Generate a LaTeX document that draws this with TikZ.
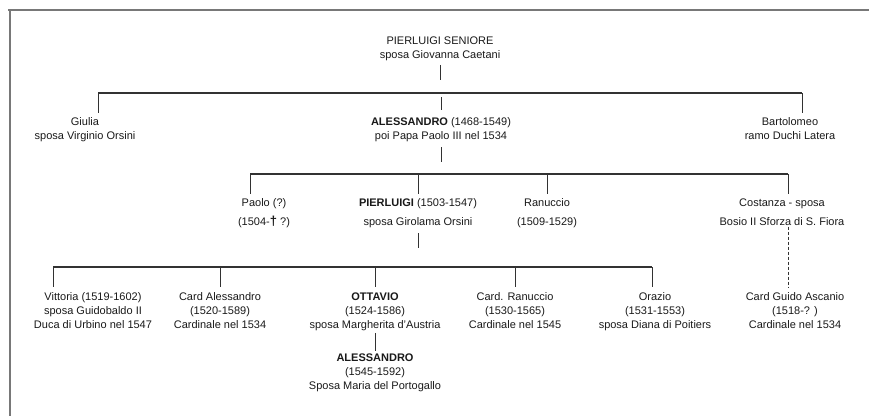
\documentclass[tikz,border=0pt]{standalone}
\usepackage{fontspec}
\setmainfont{Liberation Sans}
\usepackage{xcolor}
\usepackage{tikz}
\usetikzlibrary{calc}
\definecolor{ink}{RGB}{25,25,25}
\definecolor{rule}{RGB}{50,50,50}
\definecolor{edge}{RGB}{120,120,120}
\tikzset{
  person/.style = {align=center, inner sep=0pt, anchor=north, text=ink,
                   font=\fontsize{11}{14}\selectfont},
  bar/.style    = {draw=rule, line width=1.4pt},
  drop/.style   = {draw=rule, line width=0.8pt},
  guess/.style  = {draw=rule, line width=0.8pt, dash pattern=on 3pt off 2pt},
  frame/.style  = {draw=edge, line width=1.6pt},
}

\begin{document}
\begin{tikzpicture}[x=1pt, y=-1pt]
\useasboundingbox (0,0) rectangle (869,416);
% page frame (top and left only)
\draw[frame] (8,10) -- (869,10);
\draw[frame] (10,10) -- (10,416);

% Generation 1
\node[person] (root) at (440,36.5) {PIERLUIGI SENIORE\\sposa Giovanna Caetani};

% Generation 2
\node[person] (giulia) at (85,117.5) {Giulia\\sposa Virginio Orsini};
\node[person] (alex) at (441,117.5) {\textbf{ALESSANDRO} (1468-1549)\\poi Papa Paolo III nel 1534};
\node[person] (bart) at (790,117.5) {Bartolomeo\\ramo Duchi Latera};
\coordinate (b1w) at (98,93);
\coordinate (b1e) at (802,93);
\draw[drop, shorten <=4pt, shorten >=13pt] (root.south) -- (root.south |- b1w);
\draw[bar] (b1w) -- (b1e);
\draw[drop, shorten >=4.5pt] (b1w) -- (b1w |- giulia.north);
\draw[drop, shorten >=4.5pt] (b1e) -- (b1e |- bart.north);
\draw[drop, shorten <=4pt, shorten >=8pt] (alex.north |- b1w) -- (alex.north);

% Generation 3
\node[person] (paolo) at (264,198.5) {Paolo (?)\\[5pt](1504-{\bfseries\fontsize{13}{14}\selectfont †} ?)};
\node[person] (pier) at (418,198.5) {\textbf{PIERLUIGI} (1503-1547)\\[5pt]sposa Girolama Orsini};
\node[person] (ranu) at (547,198.5) {Ranuccio\\[5pt](1509-1529)};
\node[person] (costa) at (782,198.5) {Costanza - sposa\\[5pt]Bosio II Sforza di S. Fiora};
\coordinate (b2w) at (250,174);
\coordinate (b2e) at (788,174);
\draw[drop, shorten <=5pt, shorten >=12pt] (alex.south) -- (alex.south |- b2w);
\draw[bar] (b2w) -- (b2e);
\draw[drop, shorten >=5pt] (b2w) -- (b2w |- paolo.north);
\draw[drop, shorten >=5pt] (pier.north |- b2w) -- (pier.north);
\draw[drop, shorten >=5pt] (ranu.north |- b2w) -- (ranu.north);
\draw[drop, shorten >=5pt] (b2e) -- (b2e |- costa.north);

% Generation 4
\node[person] (vitt) at (93,292.5) {Vittoria (1519-1602)\\sposa Guidobaldo II\\Duca di Urbino nel 1547};
\node[person] (cardal) at (220,292.5) {Card Alessandro\\(1520-1589)\\Cardinale nel 1534};
\node[person] (ottav) at (375,292.5) {\textbf{OTTAVIO}\\(1524-1586)\\sposa Margherita d'Austria};
\node[person] (cardra) at (515,292.5) {Card. Ranuccio\\(1530-1565)\\Cardinale nel 1545};
\node[person] (orazio) at (655,292.5) {Orazio\\(1531-1553)\\sposa Diana di Poitiers};
\node[person] (guido) at (795,292.5) {Card Guido Ascanio\\(1518-? )\\Cardinale nel 1534};
\coordinate (b3w) at (53,267);
\coordinate (b3e) at (652,267);
\draw[drop, shorten <=5pt, shorten >=19pt] (pier.south) -- (pier.south |- b3w);
\draw[bar] (b3w) -- (b3e);
\draw[drop, shorten >=6pt] (b3w) -- (b3w |- vitt.north);
\draw[drop, shorten >=6pt] (cardal.north |- b3w) -- (cardal.north);
\draw[drop, shorten >=6pt] (ottav.north |- b3w) -- (ottav.north);
\draw[drop, shorten >=6pt] (cardra.north |- b3w) -- (cardra.north);
\draw[drop, shorten >=6pt] (b3e) -- (b3e |- orazio.north);
\draw[guess, shorten <=1pt, shorten >=5pt] (b2e |- costa.south) -- (b2e |- guido.north);

% Generation 5
\node[person] (alex2) at (375,353.5) {\textbf{ALESSANDRO}\\(1545-1592)\\Sposa Maria del Portogallo};
\draw[drop, shorten <=2pt, shorten >=3pt] (ottav.south) -- (alex2.north);
\end{tikzpicture}
\end{document}
